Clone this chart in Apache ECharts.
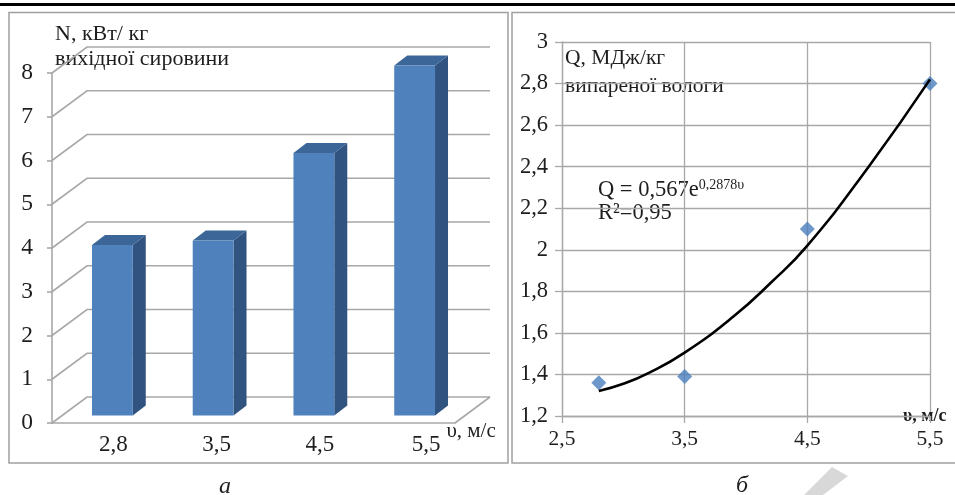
<!DOCTYPE html>
<html><head><meta charset="utf-8">
<script src="https://cdn.jsdelivr.net/npm/echarts@6/dist/echarts.min.js"></script>
<style>html,body{margin:0;padding:0;background:#fff}#c{width:955px;height:495px}</style>
</head><body><div id="c"></div>
<script>
// ---- data (left: bar chart) ----
const barCategories = ['2,8', '3,5', '4,5', '5,5'];
const barValues = [3.9, 4.0, 6.0, 8.0];
const barTicks = [0, 1, 2, 3, 4, 5, 6, 7, 8];
// ---- data (right: scatter + trend) ----
const speedPoints = [2.8, 3.5, 4.5, 5.5];
const heatPoints = [1.36, 1.39, 2.1, 2.8];
const trendSpeed = [2.8, 3.0, 3.2, 3.5, 3.9, 4.2, 4.5, 5.0, 5.5];
const trendHeat = [1.32, 1.355, 1.405, 1.505, 1.68, 1.84, 2.02, 2.40, 2.82];
const speedTicks = [2.5, 3.5, 4.5, 5.5];

const SERIF = "'Liberation Serif','Times New Roman',serif";
const GRID_C = '#a8a8a8';
const TXT = '#1e1e1e';
// 3D depth of the left chart (styling)
const DX = 35, DY = -26;
const FDX = 10, FDY = -7.5;   // bar front plane inside depth
const SDX = 13, SDY = -10;    // bar's own depth
const LABEL_SHIFT = [22, 27, 32, 43]; // perspective drift of category labels (style)

const fmtComma = v => String(+(+v).toFixed(2)).replace('.', ',');
const catRich = {};
LABEL_SHIFT.forEach((p, i) => { catRich['l' + i] = {fontFamily: SERIF, fontSize: 23, color: TXT, padding: [0, 0, 0, p]}; });

const chart = echarts.init(document.getElementById('c'), null, {renderer: 'canvas'});
chart.setOption({
  animation: false,
  backgroundColor: '#fff',
  grid: [
    {left: 52, top: 73, width: 403, height: 350},
    {left: 562, top: 42, width: 368, height: 374}
  ],
  xAxis: [
    {
      gridIndex: 0, type: 'category', data: barCategories,
      axisLine: {show: true, lineStyle: {color: GRID_C, width: 1.6}},
      axisTick: {show: false},
      axisLabel: {fontFamily: SERIF, fontSize: 23, color: TXT, margin: 10,
        formatter: (v, i) => '{l' + i + '|' + v + '}', rich: catRich},
      name: 'υ, м/с', nameLocation: 'end', nameGap: -20,
      nameTextStyle: {fontFamily: SERIF, fontSize: 21, color: TXT, align: 'left', verticalAlign: 'top', padding: [-2, 0, 0, 0]}
    },
    {
      gridIndex: 1, type: 'value', min: 2.5, max: 5.5,
      axisLine: {show: true, onZero: false, lineStyle: {color: GRID_C, width: 1.3}},
      axisTick: {show: true, length: 7, customValues: speedTicks, lineStyle: {color: GRID_C, width: 1.3}},
      axisLabel: {fontFamily: SERIF, fontSize: 21.5, color: TXT, margin: 12, customValues: speedTicks, formatter: fmtComma},
      splitLine: {show: true, lineStyle: {color: GRID_C, width: 1.3}},
      name: 'υ, м/с', nameLocation: 'end', nameGap: -27,
      nameTextStyle: {fontFamily: SERIF, fontSize: 18, fontWeight: 'bold', color: TXT, align: 'left', verticalAlign: 'middle', padding: [0, 0, 3, 0]}
    }
  ],
  yAxis: [
    {
      gridIndex: 0, type: 'value', min: 0, max: 8, interval: 1,
      axisLine: {show: true, lineStyle: {color: GRID_C, width: 1.6}},
      axisTick: {show: true, length: 5, lineStyle: {color: GRID_C, width: 1.6}},
      axisLabel: {fontFamily: SERIF, fontSize: 23.5, color: TXT, margin: 19},
      splitLine: {show: false}
    },
    {
      gridIndex: 1, type: 'value', min: 1.2, max: 3, interval: 0.2,
      axisLine: {show: true, onZero: false, lineStyle: {color: GRID_C, width: 1.3}},
      axisTick: {show: true, length: 7, lineStyle: {color: GRID_C, width: 1.3}},
      axisLabel: {fontFamily: SERIF, fontSize: 22.5, color: TXT, margin: 14, formatter: fmtComma},
      splitLine: {show: true, lineStyle: {color: GRID_C, width: 1.3}}
    }
  ],
  series: [
    {
      type: 'custom', name: 'walls', xAxisIndex: 0, yAxisIndex: 0, silent: true, z: 1,
      data: barTicks.map(v => [0, v]),
      renderItem(params, api) {
        const cs = params.coordSys;
        const v = api.value(1);
        const y = api.coord([0, v])[1];
        const x0 = cs.x, x1 = cs.x + cs.width;
        const st = {stroke: GRID_C, lineWidth: 1.6, fill: null};
        const ch = [{type: 'polyline', shape: {points: [[x0, y], [x0 + DX, y + DY], [x1 + DX, y + DY]]}, style: st}];
        if (v === 0) ch.push({type: 'line', shape: {x1: x1, y1: y, x2: x1 + DX, y2: y + DY}, style: st});
        return {type: 'group', children: ch};
      }
    },
    {
      type: 'custom', name: 'N', xAxisIndex: 0, yAxisIndex: 0, z: 3,
      data: barValues.map((v, i) => [i, v]),
      renderItem(params, api) {
        const p = api.coord([api.value(0), api.value(1)]);
        const b = api.coord([api.value(0), 0]);
        const bw = api.size([1, 0])[0] * 0.405;
        const fx = p[0] + FDX - bw / 2, fy = p[1] + FDY, fb = b[1] + FDY;
        return {type: 'group', children: [
          {type: 'polygon', shape: {points: [[fx + bw, fy], [fx + bw + SDX, fy + SDY], [fx + bw + SDX, fb + SDY], [fx + bw, fb]]}, style: {fill: '#31537f'}},
          {type: 'polygon', shape: {points: [[fx, fy], [fx + SDX, fy + SDY], [fx + bw + SDX, fy + SDY], [fx + bw, fy]]}, style: {fill: '#3c6698'}},
          {type: 'rect', shape: {x: fx, y: fy, width: bw, height: fb - fy}, style: {fill: '#4f81bd'}}
        ]};
      }
    },
    {
      type: 'scatter', name: 'Q', xAxisIndex: 1, yAxisIndex: 1, z: 3,
      symbol: 'diamond', symbolSize: 15,
      itemStyle: {color: '#4a7ebb'},
      data: speedPoints.map((x, i) => [x, heatPoints[i]])
    },
    {
      type: 'line', name: 'trend', xAxisIndex: 1, yAxisIndex: 1, z: 4,
      smooth: true, showSymbol: false, symbol: 'none',
      lineStyle: {color: '#000', width: 2.6},
      data: trendSpeed.map((x, i) => [x, trendHeat[i]])
    }
  ],
  graphic: [
    {type: 'rect', shape: {x: 0, y: 3, width: 955, height: 3}, style: {fill: '#000'}, silent: true},
    {type: 'rect', shape: {x: 9, y: 12.5, width: 499, height: 450.5}, style: {fill: null, stroke: '#a0a0a0', lineWidth: 1.5}, silent: true},
    {type: 'rect', shape: {x: 512, y: 12.5, width: 450, height: 450.5}, style: {fill: null, stroke: '#a0a0a0', lineWidth: 1.5}, silent: true},
    {type: 'text', x: 55, y: 22, style: {text: 'N, кВт/ кг\nвихідної сировини', fontFamily: SERIF, fontSize: 22, lineHeight: 25, fill: TXT, verticalAlign: 'top'}},
    {type: 'text', x: 565, y: 44, style: {text: 'Q, МДж/кг\nвипареної вологи', fontFamily: SERIF, fontSize: 21.5, lineHeight: 28, fill: TXT, verticalAlign: 'top'}},
    {type: 'text', x: 598, y: 178.5, style: {
      text: '{t|Q = 0,567e}{s|0,2878υ}\n{t|R²=0,95}', verticalAlign: 'top', fill: TXT,
      rich: {
        t: {fontFamily: SERIF, fontSize: 22.5, lineHeight: 23, fill: TXT},
        s: {fontFamily: SERIF, fontSize: 14, lineHeight: 14, verticalAlign: 'top', fill: TXT}
      }}},
    {type: 'text', x: 225, y: 487, style: {text: 'а', fontFamily: SERIF, fontStyle: 'italic', fontSize: 24, fill: TXT, align: 'center', verticalAlign: 'middle'}},
    {type: 'text', x: 742, y: 486, style: {text: 'б', fontFamily: SERIF, fontStyle: 'italic', fontSize: 24, fill: TXT, align: 'center', verticalAlign: 'middle'}},
    {type: 'polygon', shape: {points: [[832, 467], [848, 476], [823, 495], [804, 495]]}, style: {fill: '#d8d8d8'}, silent: true}
  ]
});
</script></body></html>
